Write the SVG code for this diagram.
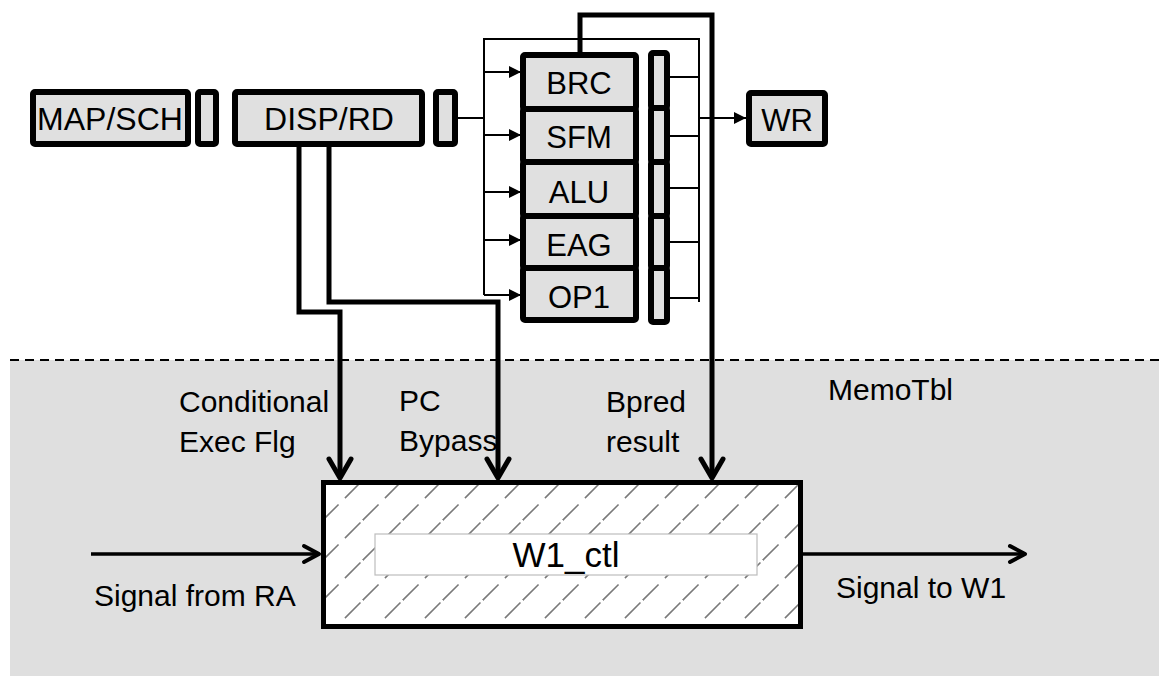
<svg xmlns="http://www.w3.org/2000/svg" width="1159" height="696" viewBox="0 0 1159 696">
<style>
.box{fill:#e0e0e0;stroke:#000;stroke-width:6;stroke-linejoin:round}
.t{font-family:"Liberation Sans",Arial,sans-serif;fill:#000}
.big{font-size:32px;text-anchor:middle}
.unit{font-size:31px}
.lbl{font-size:30px}
.thin{fill:none;stroke:#000;stroke-width:2}
.thick{fill:none;stroke:#000;stroke-width:5}
.sig{fill:none;stroke:#000;stroke-width:3.5}
.head{fill:none;stroke:#000;stroke-width:5;stroke-linecap:round;stroke-linejoin:round}
.shead{fill:none;stroke:#000;stroke-width:4;stroke-linecap:round;stroke-linejoin:round}
</style>
<defs>
<marker id="tri" markerWidth="12" markerHeight="12" refX="10" refY="5" orient="auto" markerUnits="userSpaceOnUse" viewBox="0 0 10 10">
<path d="M0,0 L10,5 L0,10 Z" fill="#000"/>
</marker>
<pattern id="hatch" patternUnits="userSpaceOnUse" width="40" height="40" x="3" y="0">
<path d="M-10,10 L10,-10 M0,40 L40,0 M30,50 L50,30" stroke="#7a7a7a" stroke-width="1.6" stroke-dasharray="22 9"/>
</pattern>
</defs>

<g id="memotbl-area">
<rect x="10" y="360" width="1149" height="316" fill="#dfdfdf"/>
<line x1="10" y1="360" x2="1159" y2="360" stroke="#000" stroke-width="2" stroke-dasharray="9 6"/>
<text class="t lbl" x="828" y="400">MemoTbl</text>
</g>

<g id="map-sch">
<rect class="box" x="33" y="92" width="155" height="52" rx="2"/>
<text class="t big" x="110" y="130">MAP/SCH</text>
</g>
<g id="reg1"><rect class="box" x="198" y="92" width="18" height="52" rx="2"/></g>
<g id="disp-rd">
<rect class="box" x="235" y="92" width="187" height="52" rx="2"/>
<text class="t big" x="329" y="130">DISP/RD</text>
</g>
<g id="reg2"><rect class="box" x="436" y="92" width="19" height="52" rx="2"/></g>

<g id="brc"><rect class="box" x="523" y="55" width="113" height="54" rx="2"/><text class="t big unit" x="579" y="94">BRC</text></g>
<g id="sfm"><rect class="box" x="523" y="109" width="113" height="53" rx="2"/><text class="t big unit" x="579" y="148">SFM</text></g>
<g id="alu"><rect class="box" x="523" y="162" width="113" height="54" rx="2"/><text class="t big unit" x="579" y="203">ALU</text></g>
<g id="eag"><rect class="box" x="523" y="216" width="113" height="52" rx="2"/><text class="t big unit" x="579" y="256">EAG</text></g>
<g id="op1"><rect class="box" x="523" y="268" width="113" height="52" rx="2"/><text class="t big unit" x="579" y="308">OP1</text></g>

<g id="regs-units">
<rect class="box" x="651" y="53" width="16" height="55" rx="2"/>
<rect class="box" x="651" y="108" width="16" height="54" rx="2"/>
<rect class="box" x="651" y="162" width="16" height="54" rx="2"/>
<rect class="box" x="651" y="216" width="16" height="52" rx="2"/>
<rect class="box" x="651" y="268" width="16" height="54" rx="2"/>
</g>

<g id="wr">
<rect class="box" x="749" y="93" width="76" height="51" rx="2"/>
<text class="t big" x="787" y="131" style="font-size:31px">WR</text>
</g>

<g id="w1-ctl">
<rect x="323.5" y="482.5" width="477" height="144" fill="#fff"/>
<rect x="323.5" y="482.5" width="477" height="144" fill="url(#hatch)"/>
<rect x="323.5" y="482.5" width="477" height="144" fill="none" stroke="#000" stroke-width="5"/>
<rect x="375" y="534" width="382" height="41" fill="#fff" stroke="#bdbdbd" stroke-width="1.2"/>
<text class="t" x="566" y="567" style="font-size:35px" text-anchor="middle">W1_ctl</text>
</g>

<g id="labels">
<text class="t lbl" x="179" y="412">Conditional</text>
<text class="t lbl" x="179" y="452">Exec Flg</text>
<text class="t lbl" x="399" y="411">PC</text>
<text class="t lbl" x="399" y="451">Bypass</text>
<text class="t lbl" x="606" y="412">Bpred</text>
<text class="t lbl" x="606" y="452">result</text>
<text class="t lbl" x="94" y="606">Signal from RA</text>
<text class="t lbl" x="836" y="598">Signal to W1</text>
</g>

<g id="connectors">
<path class="thin" d="M458,118 H485 M484,295 V39 H699 V302"/>
<line class="thin" x1="484" y1="72" x2="521" y2="72" marker-end="url(#tri)"/>
<line class="thin" x1="484" y1="135" x2="521" y2="135" marker-end="url(#tri)"/>
<line class="thin" x1="484" y1="192" x2="521" y2="192" marker-end="url(#tri)"/>
<line class="thin" x1="484" y1="240" x2="521" y2="240" marker-end="url(#tri)"/>
<line class="thin" x1="484" y1="295" x2="521" y2="295" marker-end="url(#tri)"/>
<path class="thin" d="M670,77 H699 M670,136 H699 M670,188 H699 M670,242 H699 M670,298 H699"/>
<line class="thin" x1="699" y1="118" x2="746" y2="118" marker-end="url(#tri)"/>

<path class="thick" d="M299,147 V312 H340 V478"/>
<path class="head" d="M329,459 L340,478 L351,459"/>
<path class="thick" d="M329,147 V302 H498 V478"/>
<path class="head" d="M487,459 L498,478 L509,459"/>
<path class="thick" d="M580,52 V15 H712 V478"/>
<path class="head" d="M701,459 L712,478 L723,459"/>

<path class="sig" d="M91,554 H319"/>
<path class="shead" d="M304,546 L319,554 L304,562"/>
<path class="sig" d="M803,554 H1025"/>
<path class="shead" d="M1010,546 L1025,554 L1010,562"/>
</g>
</svg>
